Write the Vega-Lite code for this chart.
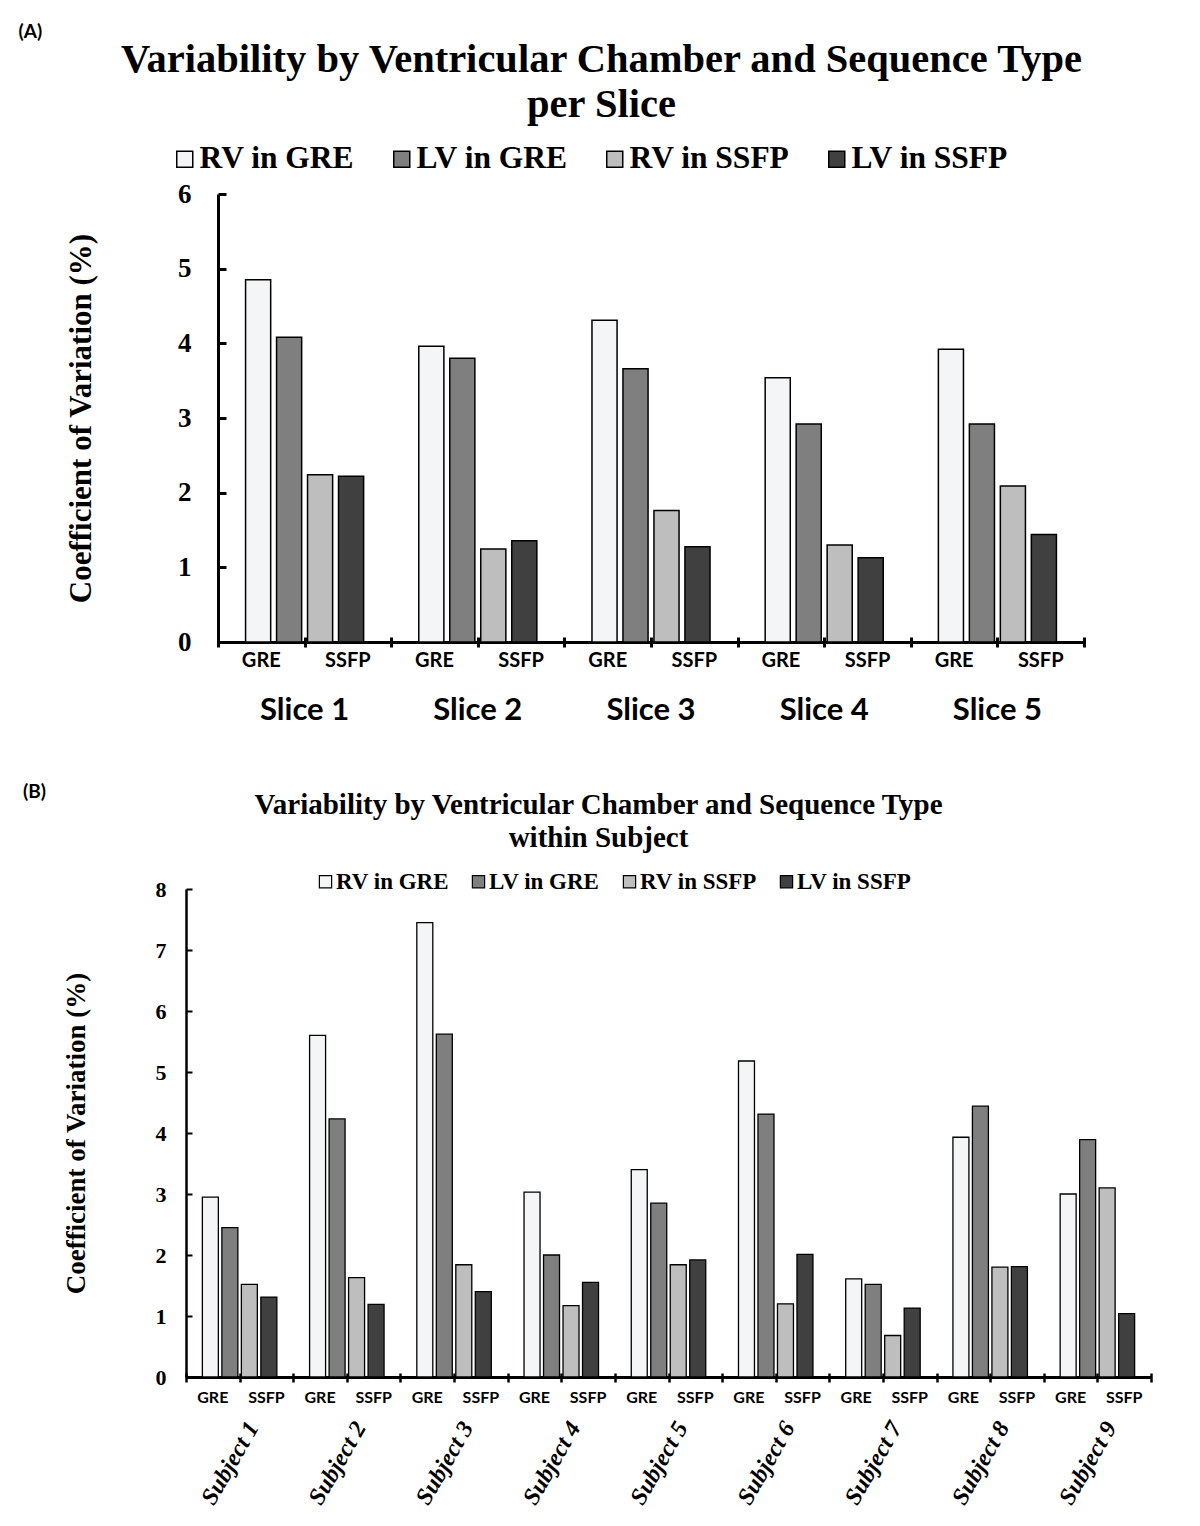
{
  "$schema": "https://vega.github.io/schema/vega-lite/v6.json",
  "padding": {"left": 18, "top": 23, "right": 10, "bottom": 5},
  "background": "white",
  "config": {"view": {"stroke": null}, "axis": {"grid": false}, "font": "Liberation Serif"},
  "datasets": {
    "A": [
      {"slice": "Slice 1", "series": "RV in GRE", "cv": 4.85},
      {"slice": "Slice 1", "series": "LV in GRE", "cv": 4.08},
      {"slice": "Slice 1", "series": "RV in SSFP", "cv": 2.24},
      {"slice": "Slice 1", "series": "LV in SSFP", "cv": 2.22},
      {"slice": "Slice 2", "series": "RV in GRE", "cv": 3.96},
      {"slice": "Slice 2", "series": "LV in GRE", "cv": 3.8},
      {"slice": "Slice 2", "series": "RV in SSFP", "cv": 1.245},
      {"slice": "Slice 2", "series": "LV in SSFP", "cv": 1.357},
      {"slice": "Slice 3", "series": "RV in GRE", "cv": 4.31},
      {"slice": "Slice 3", "series": "LV in GRE", "cv": 3.66},
      {"slice": "Slice 3", "series": "RV in SSFP", "cv": 1.76},
      {"slice": "Slice 3", "series": "LV in SSFP", "cv": 1.276},
      {"slice": "Slice 4", "series": "RV in GRE", "cv": 3.54},
      {"slice": "Slice 4", "series": "LV in GRE", "cv": 2.92},
      {"slice": "Slice 4", "series": "RV in SSFP", "cv": 1.3},
      {"slice": "Slice 4", "series": "LV in SSFP", "cv": 1.13},
      {"slice": "Slice 5", "series": "RV in GRE", "cv": 3.92},
      {"slice": "Slice 5", "series": "LV in GRE", "cv": 2.92},
      {"slice": "Slice 5", "series": "RV in SSFP", "cv": 2.09},
      {"slice": "Slice 5", "series": "LV in SSFP", "cv": 1.44}
    ],
    "catsA": [
      {"cat": "Slice 1 GRE", "pos": 0.5}, {"cat": "Slice 1 SSFP", "pos": 1.5},
      {"cat": "Slice 2 GRE", "pos": 2.5}, {"cat": "Slice 2 SSFP", "pos": 3.5},
      {"cat": "Slice 3 GRE", "pos": 4.5}, {"cat": "Slice 3 SSFP", "pos": 5.5},
      {"cat": "Slice 4 GRE", "pos": 6.5}, {"cat": "Slice 4 SSFP", "pos": 7.5},
      {"cat": "Slice 5 GRE", "pos": 8.5}, {"cat": "Slice 5 SSFP", "pos": 9.5}
    ],
    "B": [
      {"subject": "Subject 1", "series": "RV in GRE", "cv": 2.95},
      {"subject": "Subject 1", "series": "LV in GRE", "cv": 2.45},
      {"subject": "Subject 1", "series": "RV in SSFP", "cv": 1.52},
      {"subject": "Subject 1", "series": "LV in SSFP", "cv": 1.31},
      {"subject": "Subject 2", "series": "RV in GRE", "cv": 5.6},
      {"subject": "Subject 2", "series": "LV in GRE", "cv": 4.23},
      {"subject": "Subject 2", "series": "RV in SSFP", "cv": 1.63},
      {"subject": "Subject 2", "series": "LV in SSFP", "cv": 1.19},
      {"subject": "Subject 3", "series": "RV in GRE", "cv": 7.45},
      {"subject": "Subject 3", "series": "LV in GRE", "cv": 5.62},
      {"subject": "Subject 3", "series": "RV in SSFP", "cv": 1.84},
      {"subject": "Subject 3", "series": "LV in SSFP", "cv": 1.4},
      {"subject": "Subject 4", "series": "RV in GRE", "cv": 3.03},
      {"subject": "Subject 4", "series": "LV in GRE", "cv": 2.0},
      {"subject": "Subject 4", "series": "RV in SSFP", "cv": 1.17},
      {"subject": "Subject 4", "series": "LV in SSFP", "cv": 1.55},
      {"subject": "Subject 5", "series": "RV in GRE", "cv": 3.4},
      {"subject": "Subject 5", "series": "LV in GRE", "cv": 2.85},
      {"subject": "Subject 5", "series": "RV in SSFP", "cv": 1.84},
      {"subject": "Subject 5", "series": "LV in SSFP", "cv": 1.92},
      {"subject": "Subject 6", "series": "RV in GRE", "cv": 5.18},
      {"subject": "Subject 6", "series": "LV in GRE", "cv": 4.31},
      {"subject": "Subject 6", "series": "RV in SSFP", "cv": 1.2},
      {"subject": "Subject 6", "series": "LV in SSFP", "cv": 2.01},
      {"subject": "Subject 7", "series": "RV in GRE", "cv": 1.61},
      {"subject": "Subject 7", "series": "LV in GRE", "cv": 1.52},
      {"subject": "Subject 7", "series": "RV in SSFP", "cv": 0.68},
      {"subject": "Subject 7", "series": "LV in SSFP", "cv": 1.13},
      {"subject": "Subject 8", "series": "RV in GRE", "cv": 3.93},
      {"subject": "Subject 8", "series": "LV in GRE", "cv": 4.44},
      {"subject": "Subject 8", "series": "RV in SSFP", "cv": 1.8},
      {"subject": "Subject 8", "series": "LV in SSFP", "cv": 1.81},
      {"subject": "Subject 9", "series": "RV in GRE", "cv": 3.0},
      {"subject": "Subject 9", "series": "LV in GRE", "cv": 3.89},
      {"subject": "Subject 9", "series": "RV in SSFP", "cv": 3.1},
      {"subject": "Subject 9", "series": "LV in SSFP", "cv": 1.04}
    ],
    "catsB": [
      {"cat": "Subject 1 GRE", "pos": 0.5}, {"cat": "Subject 1 SSFP", "pos": 1.5},
      {"cat": "Subject 2 GRE", "pos": 2.5}, {"cat": "Subject 2 SSFP", "pos": 3.5},
      {"cat": "Subject 3 GRE", "pos": 4.5}, {"cat": "Subject 3 SSFP", "pos": 5.5},
      {"cat": "Subject 4 GRE", "pos": 6.5}, {"cat": "Subject 4 SSFP", "pos": 7.5},
      {"cat": "Subject 5 GRE", "pos": 8.5}, {"cat": "Subject 5 SSFP", "pos": 9.5},
      {"cat": "Subject 6 GRE", "pos": 10.5}, {"cat": "Subject 6 SSFP", "pos": 11.5},
      {"cat": "Subject 7 GRE", "pos": 12.5}, {"cat": "Subject 7 SSFP", "pos": 13.5},
      {"cat": "Subject 8 GRE", "pos": 14.5}, {"cat": "Subject 8 SSFP", "pos": 15.5},
      {"cat": "Subject 9 GRE", "pos": 16.5}, {"cat": "Subject 9 SSFP", "pos": 17.5}
    ]
  },
  "spacing": 58,
  "resolve": {"scale": {"color": "independent"}, "legend": {"color": "independent"}},
  "vconcat": [
    {
      "width": 898,
      "height": 448,
      "title": {"text": "(A)", "anchor": "start", "frame": "bounds", "font": "Lato", "fontSize": 19, "fontWeight": "bold", "color": "black", "dx": -47, "offset": -3},
      "layer": [
        {
          "data": {"name": "A"},
          "mark": {"type": "bar", "stroke": "black", "strokeWidth": 1.5},
          "encoding": {
            "x": {"field": "slice", "type": "nominal", "sort": null, "scale": {"type": "band", "paddingInner": 0, "paddingOuter": 0, "range": [32, 898]},
              "axis": {"orient": "bottom", "title": null, "labelAngle": 0, "labelFont": "Lato", "labelFontWeight": "bold", "labelFontSize": 31, "labelColor": "black", "labelPadding": 68, "labelBaseline": "middle", "ticks": false, "domain": false}},
            "xOffset": {"field": "series", "type": "nominal", "sort": ["RV in GRE", "LV in GRE", "RV in SSFP", "LV in SSFP"], "scale": {"paddingInner": 0.19, "paddingOuter": 0.89}},
            "y": {"field": "cv", "type": "quantitative", "scale": {"domain": [0, 6], "nice": false},
              "axis": {"offset": -32, "title": "Coefficient of Variation  (%)", "titleFont": "Liberation Serif", "titleFontSize": 31, "titleFontWeight": "bold", "titleColor": "black", "titlePadding": 80, "values": [0, 1, 2, 3, 4, 5, 6], "format": "d", "labelFont": "Liberation Serif", "labelFontSize": 27, "labelFontWeight": "bold", "labelColor": "black", "labelPadding": 35, "tickSize": -8, "tickWidth": 3, "tickColor": "black", "domainColor": "black", "domainWidth": 3, "grid": false}},
            "color": {"field": "series", "type": "nominal", "sort": ["RV in GRE", "LV in GRE", "RV in SSFP", "LV in SSFP"],
              "scale": {"domain": ["RV in GRE", "LV in GRE", "RV in SSFP", "LV in SSFP"], "range": ["#f4f5f7", "#7f7f7f", "#bfbebf", "#404040"]},
              "legend": {"orient": "none", "legendX": -17, "legendY": -51, "direction": "horizontal", "title": null, "symbolType": "square", "symbolSize": 256, "symbolStrokeColor": "black", "symbolStrokeWidth": 1.5, "symbolOpacity": 1, "labelFont": "Liberation Serif", "labelFontSize": 31.5, "labelFontWeight": "bold", "labelColor": "black", "labelOffset": -1, "columnPadding": 31, "labelLimit": 400}}
          }
        },
        {
          "data": {"name": "catsA"},
          "mark": {"type": "point", "opacity": 0},
          "encoding": {
            "x": {"field": "cat", "type": "nominal", "sort": null, "scale": {"type": "band", "paddingInner": 0, "paddingOuter": 0, "range": [32, 898]},
              "axis": {"orient": "bottom", "title": null, "labelExpr": "split(datum.value, ' ')[2]", "labelAngle": 0, "labelFont": "Lato", "labelFontWeight": "bold", "labelFontSize": 20, "labelColor": "black", "labelPadding": 18, "labelBaseline": "middle", "ticks": false, "domain": true, "domainColor": "black", "domainWidth": 3}},
            "y": {"datum": 0, "type": "quantitative"}
          }
        },
        {
          "data": {"name": "catsA"},
          "mark": {"type": "point", "opacity": 0},
          "encoding": {
            "x": {"field": "pos", "type": "quantitative", "scale": {"domain": [0, 10], "nice": false, "zero": false, "range": [32, 898]},
              "axis": {"orient": "bottom", "title": null, "values": [0, 1, 2, 3, 4, 5, 6, 7, 8, 9, 10], "labels": false, "domain": false, "ticks": true, "tickSize": 10, "tickWidth": 3, "tickColor": "black", "offset": -5}},
            "y": {"datum": 0, "type": "quantitative"}
          }
        },
        {
          "data": {"name": "catsA"},
          "mark": {"type": "point", "opacity": 0},
          "encoding": {
            "x": {"field": "pos", "type": "quantitative", "scale": {"domain": [0, 10], "nice": false, "zero": false, "range": [32, 898]},
              "axis": {"orient": "top", "title": ["Variability by Ventricular Chamber and Sequence Type", "per Slice"], "titleFont": "Liberation Serif", "titleFontSize": 40.5, "titleLineHeight": 45, "titleFontWeight": "bold", "titleColor": "black", "titleX": 415, "titleAlign": "center", "titlePadding": 69, "labels": false, "domain": false, "ticks": false, "grid": false}},
            "y": {"datum": 0, "type": "quantitative"}
          }
        }
      ],
      "resolve": {"scale": {"x": "independent", "xOffset": "independent"}, "axis": {"x": "independent"}}
    },
    {
      "width": 965,
      "height": 488,
      "title": {"text": "(B)", "anchor": "start", "frame": "bounds", "font": "Lato", "fontSize": 19, "fontWeight": "bold", "color": "black", "dx": -39, "offset": -12},
      "layer": [
        {
          "data": {"name": "B"},
          "mark": {"type": "bar", "stroke": "black", "strokeWidth": 1.3},
          "encoding": {
            "x": {"field": "subject", "type": "nominal", "sort": null, "scale": {"type": "band", "paddingInner": 0, "paddingOuter": 0},
              "axis": {"orient": "bottom", "title": null, "labelAngle": -60, "labelAlign": "center", "labelBaseline": "middle", "labelFont": "Liberation Serif", "labelFontStyle": "italic", "labelFontWeight": "bold", "labelFontSize": 24, "labelColor": "black", "labelPadding": 86, "labelOffset": -9, "ticks": false, "domain": false}},
            "xOffset": {"field": "series", "type": "nominal", "sort": ["RV in GRE", "LV in GRE", "RV in SSFP", "LV in SSFP"], "scale": {"paddingInner": 0.18, "paddingOuter": 0.84}},
            "y": {"field": "cv", "type": "quantitative", "scale": {"domain": [0, 8], "nice": false},
              "axis": {"title": "Coefficient of Variation (%)", "titleFont": "Liberation Serif", "titleFontSize": 27, "titleFontWeight": "bold", "titleColor": "black", "titlePadding": 65, "values": [0, 1, 2, 3, 4, 5, 6, 7, 8], "format": "d", "labelFont": "Liberation Serif", "labelFontSize": 22, "labelFontWeight": "bold", "labelColor": "black", "labelPadding": 26, "tickSize": -6, "tickWidth": 2, "tickColor": "black", "domainColor": "black", "domainWidth": 2.5, "grid": false}},
            "color": {"field": "series", "type": "nominal", "sort": ["RV in GRE", "LV in GRE", "RV in SSFP", "LV in SSFP"],
              "scale": {"domain": ["RV in GRE", "LV in GRE", "RV in SSFP", "LV in SSFP"], "range": ["#f4f5f7", "#7f7f7f", "#bfbebf", "#404040"]},
              "legend": {"orient": "none", "legendX": 128, "legendY": -19, "direction": "horizontal", "title": null, "symbolType": "square", "symbolSize": 150, "symbolStrokeColor": "black", "symbolStrokeWidth": 1.2, "symbolOpacity": 1, "labelFont": "Liberation Serif", "labelFontSize": 23, "labelFontWeight": "bold", "labelColor": "black", "labelOffset": -1, "columnPadding": 18, "labelLimit": 400}}
          }
        },
        {
          "data": {"name": "catsB"},
          "mark": {"type": "point", "opacity": 0},
          "encoding": {
            "x": {"field": "cat", "type": "nominal", "sort": null, "scale": {"type": "band", "paddingInner": 0, "paddingOuter": 0},
              "axis": {"orient": "bottom", "title": null, "labelExpr": "split(datum.value, ' ')[2]", "labelAngle": 0, "labelFont": "Lato", "labelFontWeight": "bold", "labelFontSize": 16, "labelColor": "black", "labelPadding": 20, "labelBaseline": "middle", "ticks": false, "domain": true, "domainColor": "black", "domainWidth": 3}},
            "y": {"datum": 0, "type": "quantitative"}
          }
        },
        {
          "data": {"name": "catsB"},
          "mark": {"type": "point", "opacity": 0},
          "encoding": {
            "x": {"field": "pos", "type": "quantitative", "scale": {"domain": [0, 18], "nice": false, "zero": false},
              "axis": {"orient": "bottom", "title": null, "values": [0, 1, 2, 3, 4, 5, 6, 7, 8, 9, 10, 11, 12, 13, 14, 15, 16, 17, 18], "labels": false, "domain": false, "ticks": true, "tickSize": 9, "tickWidth": 2.5, "tickColor": "black", "offset": -4}},
            "y": {"datum": 0, "type": "quantitative"}
          }
        },
        {
          "data": {"name": "catsB"},
          "mark": {"type": "point", "opacity": 0},
          "encoding": {
            "x": {"field": "pos", "type": "quantitative", "scale": {"domain": [0, 18], "nice": false, "zero": false},
              "axis": {"orient": "top", "title": ["Variability by Ventricular Chamber and Sequence Type", "within Subject"], "titleFont": "Liberation Serif", "titleFontSize": 29, "titleLineHeight": 33, "titleFontWeight": "bold", "titleColor": "black", "titleX": 412, "titleAlign": "center", "titlePadding": 37, "labels": false, "domain": false, "ticks": false, "grid": false}},
            "y": {"datum": 0, "type": "quantitative"}
          }
        }
      ],
      "resolve": {"scale": {"x": "independent", "xOffset": "independent"}, "axis": {"x": "independent"}}
    }
  ]
}
